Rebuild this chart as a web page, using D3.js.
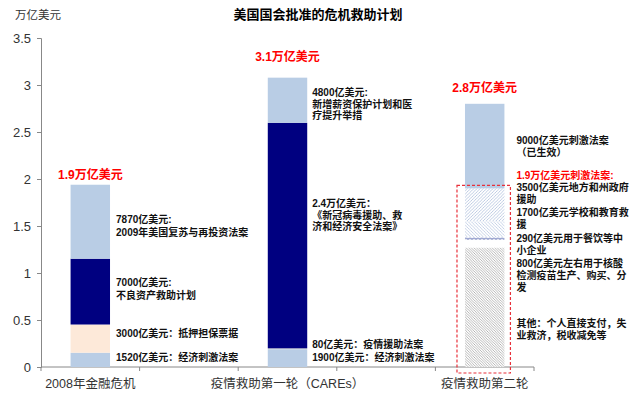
<!DOCTYPE html>
<html><head><meta charset="utf-8">
<script src="https://cdn.jsdelivr.net/npm/d3@7"></script>
<style>body{margin:0;background:#fff}svg{display:block}</style>
</head><body><svg id="c" width="635" height="406"></svg>
<script>
// ---------- data ----------
const categoryKeys   = ["c2008", "gap1", "cares1", "gap2", "round2"];
const categoryLabels = ["2008年金融危机", "", "疫情救助第一轮（CAREs）", "", "疫情救助第二轮"];
const yTicks = [0, 0.5, 1, 1.5, 2, 2.5, 3, 3.5];
// stacked segments, bottom to top (万亿美元)
const crisisValues = [0.152, 0.300, 0.700, 0.787];
const cares1Values = [0.190, 0.008, 2.400, 0.480];
const round2Values = [1.271, 0.080, 0.029, 0.170, 0.350, 0.900];
const totalLabels = ["1.9万亿美元", "3.1万亿美元", "2.8万亿美元"];
const title = "美国国会批准的危机救助计划";
const unitLabel = "万亿美元";
const crisisNotes = [
  ["7870亿美元:", "2009年美国复苏与再投资法案"],
  ["7000亿美元:", "不良资产救助计划"],
  ["3000亿美元：抵押担保票据"],
  ["1520亿美元：经济刺激法案"]
];
const cares1Notes = [
  ["4800亿美元:", "新增薪资保护计划和医", "疗提升举措"],
  ["2.4万亿美元：", "《新冠病毒援助、救", "济和经济安全法案》"],
  ["80亿美元：疫情援助法案"],
  ["1900亿美元：经济刺激法案"]
];
const round2Notes = [
  ["9000亿美元刺激法案", "（已生效）"],
  ["1.9万亿美元刺激法案:"],
  ["3500亿美元地方和州政府", "援助"],
  ["1700亿美元学校和教育救", "援"],
  ["290亿美元用于餐饮等中", "小企业"],
  ["800亿美元左右用于核酸", "检测疫苗生产、购买、分", "发"],
  ["其他：个人直接支付，失", "业救济，税收减免等"]
];

// ---------- layout / style ----------
const svg = d3.select("#c");
const plot = {left: 41, right: 534, top: 38, bottom: 367};
const x = d3.scaleBand().domain(categoryKeys).range([plot.left, plot.right]).paddingInner(0.6).paddingOuter(0.3);
const y = d3.scaleLinear().domain([0, 3.5]).range([plot.bottom, plot.top]);
const LIGHT = "#b9cde5", NAVY = "#000080", PEACH = "#fde9d9";
const FONT = "'Liberation Sans','Noto Sans CJK SC',Arial,sans-serif";

// patterns
const defs = svg.append("defs");
function linePattern(id, dir, color, sp, sw) {
  const p = defs.append("pattern").attr("id", id).attr("patternUnits", "userSpaceOnUse")
    .attr("width", sp).attr("height", sp);
  p.append("rect").attr("width", sp).attr("height", sp).attr("fill", "#fff");
  const d = dir > 0
    ? `M0,${sp} L${sp},0 M${-sp/2},${sp/2} L${sp/2},${-sp/2} M${sp/2},${sp*1.5} L${sp*1.5},${sp/2}`
    : `M0,0 L${sp},${sp} M${-sp/2},${sp/2} L${sp/2},${sp*1.5} M${sp/2},${-sp/2} L${sp*1.5},${sp/2}`;
  p.append("path").attr("d", d).attr("stroke", color).attr("stroke-width", sw);
}
linePattern("pUp", 1, "#aebfdc", 3.2, 0.8);
linePattern("pDown", -1, "#b9c8e2", 3.2, 0.8);
linePattern("pGrey", -1, "#9a9a9a", 2.6, 0.7);
const zz = defs.append("pattern").attr("id", "pZig").attr("patternUnits", "userSpaceOnUse")
  .attr("width", 4).attr("height", 3).attr("y", y(1.271 + 0.08 + 0.029));
zz.append("rect").attr("width", 4).attr("height", 3).attr("fill", "#fff");
zz.append("path").attr("d", "M0,2.2 L2,0.6 L4,2.2").attr("stroke", "#2b3f9a").attr("stroke-width", 0.9).attr("fill", "none");

const fills = {
  c2008: [LIGHT, PEACH, NAVY, LIGHT],
  cares1: [LIGHT, "#eef0dc", NAVY, LIGHT],
  round2: ["url(#pGrey)", "#ffffff", "url(#pZig)", "url(#pDown)", "url(#pUp)", LIGHT]
};
const seriesByKey = {c2008: crisisValues, cares1: cares1Values, round2: round2Values};

// title & unit
svg.append("text").attr("x", 318).attr("y", 19).attr("text-anchor", "middle")
  .attr("font-family", FONT).attr("font-weight", "bold").attr("font-size", 13).attr("fill", "#000").text(title);
svg.append("text").attr("x", 15).attr("y", 19)
  .attr("font-family", FONT).attr("font-size", 11.5).attr("fill", "#333").text(unitLabel);

// axes
const ya = svg.append("g").attr("transform", `translate(${plot.left},0)`)
  .call(d3.axisLeft(y).tickValues(yTicks).tickSize(4).tickPadding(6).tickFormat(d3.format("~g")));
ya.select(".domain").attr("stroke", "#888");
ya.selectAll(".tick line").attr("stroke", "#888");
ya.selectAll(".tick text").attr("font-family", FONT).attr("font-size", 13).attr("fill", "#333");

svg.append("line").attr("x1", plot.left).attr("x2", plot.right).attr("y1", y(0)).attr("y2", y(0)).attr("stroke", "#888");
const step = x.step();
d3.range(categoryKeys.length + 1).forEach(i => {
  const xx = plot.left + i * step;
  svg.append("line").attr("x1", xx).attr("x2", xx).attr("y1", y(0)).attr("y2", y(0) + 4).attr("stroke", "#888");
});
categoryKeys.forEach((k, i) => {
  if (!categoryLabels[i]) return;
  svg.append("text").attr("x", x(k) + x.bandwidth() / 2).attr("y", 388).attr("text-anchor", "middle")
    .attr("font-family", FONT).attr("font-size", 12.5).attr("fill", "#333").text(categoryLabels[i]);
});

// bars
const stackKeys = ["c2008", "cares1", "round2"];
stackKeys.forEach(k => {
  const vals = seriesByKey[k];
  const cum = d3.cumsum(vals);
  const segs = vals.map((v, i) => ({v, y0: cum[i] - v, y1: cum[i], f: fills[k][i]}));
  svg.append("g").selectAll("rect").data(segs).join("rect")
    .attr("x", x(k)).attr("width", x.bandwidth())
    .attr("y", d => y(d.y1)).attr("height", d => y(d.y0) - y(d.y1))
    .attr("fill", d => d.f);
});

// red dashed box round 2 (1.9万亿 part)
const r2cum = d3.cumsum(round2Values);
const boxTop = y(r2cum[4]);
svg.append("rect").attr("x", x("round2") - 8).attr("width", x.bandwidth() + 14)
  .attr("y", boxTop - 3).attr("height", y(0) - boxTop + 9)
  .attr("fill", "none").attr("stroke", "#e8303a").attr("stroke-width", 1.2).attr("stroke-dasharray", "3,2");

// total labels
const totalOffsets = [6, 17, 12];
stackKeys.forEach((k, i) => {
  const tot = d3.sum(seriesByKey[k]);
  svg.append("text").attr("x", x(k) + x.bandwidth() / 2).attr("y", y(tot) - totalOffsets[i])
    .attr("text-anchor", "middle").attr("font-family", FONT).attr("font-weight", "bold")
    .attr("font-size", 12).attr("fill", "#ff0000").text(totalLabels[i]);
});

// annotations (one text element per block, lines as tspans)
function notes(k, list, dx, tops, lh, redIdx) {
  const gx = x(k) + x.bandwidth() + dx;
  list.forEach((lines, i) => {
    const t = svg.append("text").attr("x", gx).attr("y", tops[i])
      .attr("font-family", FONT).attr("font-weight", "bold").attr("font-size", 10)
      .attr("fill", i === redIdx ? "#ff0000" : "#111");
    lines.forEach((s, j) => {
      t.append("tspan").attr("x", gx).attr("dy", j === 0 ? 0 : lh).text(s);
    });
  });
}
notes("c2008", crisisNotes, 6, [223, 286, 337, 361], 13, -1);
notes("cares1", cares1Notes, 5, [96, 207, 348, 361], 11.5, -1);
notes("round2", round2Notes, 12, [144, 179, 191, 216, 242, 267, 327], 12, 1);
</script>
</body></html>
